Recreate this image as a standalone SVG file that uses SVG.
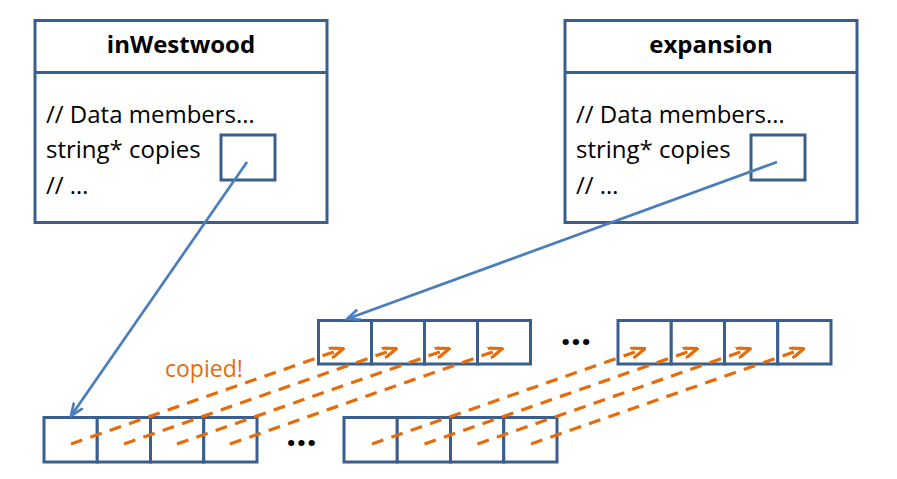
<svg xmlns="http://www.w3.org/2000/svg" width="897" height="479" viewBox="0 0 897 479">
<defs>
<style>
.box{fill:#fff;stroke:#3A5F8E;stroke-width:3}
.cell{fill:#fff;stroke:#3A5F8E;stroke-width:3}
.t{font-family:"Open Sans","Liberation Sans",sans-serif;font-size:24px;fill:#000}
.title{font-family:"Open Sans","Liberation Sans",sans-serif;font-size:24px;font-weight:bold;fill:#000;text-anchor:middle}
.ptr{stroke:#4A7EBB;stroke-width:2.7;fill:none;marker-end:url(#blueArrow)}
.copy{stroke:#E46C0A;stroke-width:3.2;fill:none;stroke-dasharray:12 8.5;marker-end:url(#orangeArrow)}
.lbl{font-family:"Open Sans","Liberation Sans",sans-serif;font-size:23px;fill:#E46C0A}
.dots{font-family:"Open Sans","Liberation Sans",sans-serif;font-size:36px;font-weight:bold;fill:#000;text-anchor:middle}
</style>
<marker id="blueArrow" viewBox="0 0 14 12" refX="13" refY="6" markerWidth="14" markerHeight="12" markerUnits="userSpaceOnUse" orient="auto">
<path d="M1,1 L13,6 L1,11" fill="none" stroke="#4A7EBB" stroke-width="2.7" stroke-linecap="round" stroke-linejoin="round"/>
</marker>
<marker id="orangeArrow" viewBox="0 0 15 12" refX="14" refY="6" markerWidth="15" markerHeight="12" markerUnits="userSpaceOnUse" orient="auto">
<path d="M1,1 L14,6 L1,11" fill="none" stroke="#E46C0A" stroke-width="3.2" stroke-linecap="round" stroke-linejoin="round"/>
</marker>
</defs>

<g id="inWestwood">
<rect class="box" x="35" y="20.5" width="292" height="202"/>
<line x1="35" y1="72.5" x2="327" y2="72.5" stroke="#3A5F8E" stroke-width="3"/>
<text class="title" x="181" y="52.5">inWestwood</text>
<text class="t" x="46" y="122.5">// Data members…</text>
<text class="t" x="46" y="157.5">string* copies</text>
<text class="t" x="46" y="193.5">// …</text>
<rect class="box" x="221" y="135" width="54" height="45"/>
</g>

<g id="expansion">
<rect class="box" x="565" y="20.5" width="292" height="202"/>
<line x1="565" y1="72.5" x2="857" y2="72.5" stroke="#3A5F8E" stroke-width="3"/>
<text class="title" x="711" y="52.5">expansion</text>
<text class="t" x="576" y="122.5">// Data members…</text>
<text class="t" x="576" y="157.5">string* copies</text>
<text class="t" x="576" y="193.5">// …</text>
<rect class="box" x="751" y="135" width="54" height="45"/>
</g>

<g id="array-old-1">
<rect class="cell" x="44" y="417.5" width="53.25" height="44.5"/>
<rect class="cell" x="97.25" y="417.5" width="53.25" height="44.5"/>
<rect class="cell" x="150.5" y="417.5" width="53.25" height="44.5"/>
<rect class="cell" x="203.75" y="417.5" width="53.25" height="44.5"/>
</g>
<g id="array-old-2">
<rect class="cell" x="344" y="417.5" width="53.25" height="44.5"/>
<rect class="cell" x="397.25" y="417.5" width="53.25" height="44.5"/>
<rect class="cell" x="450.5" y="417.5" width="53.25" height="44.5"/>
<rect class="cell" x="503.75" y="417.5" width="53.25" height="44.5"/>
</g>
<g id="array-new-1">
<rect class="cell" x="318.5" y="320.5" width="53" height="43.5"/>
<rect class="cell" x="371.5" y="320.5" width="53" height="43.5"/>
<rect class="cell" x="424.5" y="320.5" width="53" height="43.5"/>
<rect class="cell" x="477.5" y="320.5" width="53" height="43.5"/>
</g>
<g id="array-new-2">
<rect class="cell" x="618" y="320.5" width="53.25" height="43.5"/>
<rect class="cell" x="671.25" y="320.5" width="53.25" height="43.5"/>
<rect class="cell" x="724.5" y="320.5" width="53.25" height="43.5"/>
<rect class="cell" x="777.75" y="320.5" width="53.25" height="43.5"/>
</g>

<g id="ellipses">
<text class="dots" x="301.5" y="445.5">…</text>
<text class="dots" x="576" y="344.5">…</text>
</g>

<g id="connectors">
<line class="ptr" x1="247" y1="162" x2="71" y2="416"/>
<line class="ptr" x1="777" y1="162" x2="347" y2="319"/>
<line class="copy" x1="71" y1="444" x2="343.5" y2="348.5"/>
<line class="copy" x1="124" y1="444" x2="396.5" y2="348.5"/>
<line class="copy" x1="177" y1="444" x2="449.5" y2="348.5"/>
<line class="copy" x1="230" y1="444" x2="502.5" y2="348.5"/>
<line class="copy" x1="372" y1="444" x2="645" y2="348.5"/>
<line class="copy" x1="424.5" y1="444" x2="697.5" y2="348.5"/>
<line class="copy" x1="477.5" y1="444" x2="750.5" y2="348.5"/>
<line class="copy" x1="531" y1="444" x2="804" y2="348.5"/>
<text class="lbl" x="165" y="377">copied!</text>
</g>
</svg>
